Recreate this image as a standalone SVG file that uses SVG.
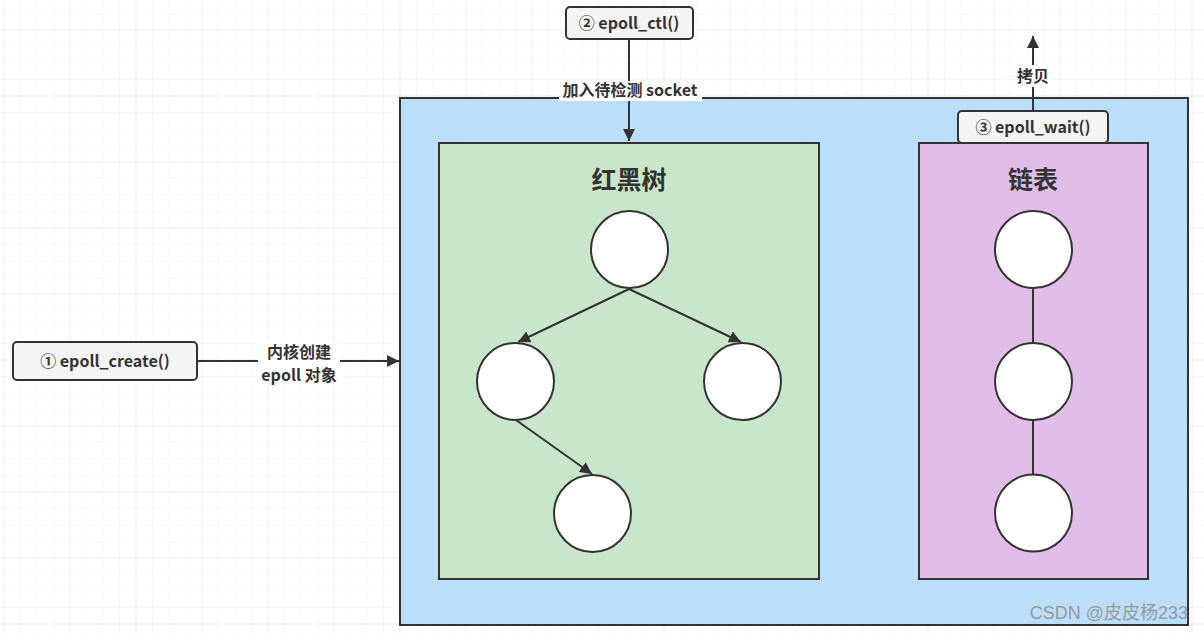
<svg xmlns="http://www.w3.org/2000/svg" width="1204" height="634" viewBox="0 0 1204 634">
  <defs>
    <pattern id="minor" x="3.5" y="29.5" width="16.5" height="16.5" patternUnits="userSpaceOnUse">
      <path d="M0 0 H16.5 M0 0 V16.5" fill="none" stroke="#f1f1f1" stroke-width="1"/>
    </pattern>
    <pattern id="major" x="3.5" y="29.5" width="66" height="66" patternUnits="userSpaceOnUse">
      <path d="M0 0 H66 M0 0 V66" fill="none" stroke="#e3e3e3" stroke-width="1"/>
    </pattern>
    <marker id="arr" viewBox="0 0 10 10" refX="10" refY="5" markerWidth="6" markerHeight="6" orient="auto" markerUnits="strokeWidth">
      <path d="M0 0 L10 5 L0 10 z" fill="#333"/>
    </marker>
    <style>
      .box { stroke: #333; stroke-width: 2; }
      .fn { fill: #f5f5f5; stroke: #333; stroke-width: 2; }
      .node { fill: #fff; stroke: #333; stroke-width: 2; }
      .line { stroke: #333; stroke-width: 2; fill: none; }
      .t { font-family: "Noto Sans CJK SC", "Noto Sans", sans-serif; font-weight: bold; fill: #333; text-anchor: middle; dominant-baseline: central; }
      .lbl { font-size: 16px; }
      .title { font-size: 25px; }
      .bg { fill: #fff; }
    </style>
  </defs>
  <rect width="1204" height="634" fill="#fff"/>
  <rect width="1204" height="634" fill="url(#minor)"/>
  <rect width="1204" height="634" fill="url(#major)"/>

  <g id="epoll-object">
    <rect class="box" x="400" y="98" width="788" height="527" fill="#bbdefb"/>
  </g>
  <g id="rbtree">
    <rect class="box" x="439" y="143" width="380" height="436" fill="#c8e6c9"/>
    <text class="t title" x="629" y="178">红黑树</text>
  </g>
  <g id="list">
    <rect class="box" x="919" y="143" width="229" height="436" fill="#e1bee7"/>
    <text class="t title" x="1033" y="178">链表</text>
  </g>

  <g id="connectors">
    <line class="line" x1="197" y1="361" x2="399" y2="361" marker-end="url(#arr)"/>
    <line class="line" x1="629" y1="39" x2="629" y2="141" marker-end="url(#arr)"/>
    <line class="line" x1="1033" y1="110" x2="1033" y2="36" marker-end="url(#arr)"/>
    <line class="line" x1="629" y1="289" x2="518" y2="342" marker-end="url(#arr)"/>
    <line class="line" x1="629" y1="289" x2="741" y2="342" marker-end="url(#arr)"/>
    <line class="line" x1="516" y1="420" x2="592" y2="474" marker-end="url(#arr)"/>
    <line class="line" x1="1033" y1="288" x2="1033" y2="343"/>
    <line class="line" x1="1033" y1="420" x2="1033" y2="474"/>
  </g>

  <g id="label-create">
    <rect class="bg" x="258" y="341" width="82" height="43"/>
    <text class="t lbl" x="299" y="351">内核创建</text>
    <text class="t lbl" x="299" y="374">epoll 对象</text>
  </g>
  <g id="label-ctl">
    <rect class="bg" x="559" y="81" width="143" height="20"/>
    <text class="t lbl" x="630" y="89">加入待检测 socket</text>
  </g>
  <g id="label-copy">
    <rect class="bg" x="1016" y="65" width="34" height="22"/>
    <text class="t lbl" x="1033" y="75">拷贝</text>
  </g>

  <g id="epoll_create">
    <rect class="fn" x="13" y="342" width="184" height="38" rx="4"/>
    <text class="t lbl" x="105" y="360">① epoll_create()</text>
  </g>
  <g id="epoll_ctl">
    <rect class="fn" x="566" y="7" width="127" height="32" rx="4"/>
    <text class="t lbl" x="629" y="22">② epoll_ctl()</text>
  </g>
  <g id="epoll_wait">
    <rect class="fn" x="958" y="111" width="150" height="32" rx="4"/>
    <text class="t lbl" x="1033" y="126">③ epoll_wait()</text>
  </g>

  <g id="tree-root"><circle class="node" cx="629.5" cy="249.5" r="38.5"/></g>
  <g id="tree-left"><circle class="node" cx="515.5" cy="381.5" r="38.5"/></g>
  <g id="tree-right"><circle class="node" cx="742.5" cy="381.5" r="38.5"/></g>
  <g id="tree-bottom"><circle class="node" cx="592.5" cy="513.5" r="38.5"/></g>
  <g id="list-1"><circle class="node" cx="1033.5" cy="249.5" r="38.5"/></g>
  <g id="list-2"><circle class="node" cx="1033.5" cy="381.5" r="38.5"/></g>
  <g id="list-3"><circle class="node" cx="1033.5" cy="513" r="38.5"/></g>

  <text x="1188" y="619" font-family="Liberation Sans, Noto Sans CJK SC, sans-serif" font-size="18" fill="#9a9a9a" text-anchor="end">CSDN @皮皮杨233</text>
</svg>
